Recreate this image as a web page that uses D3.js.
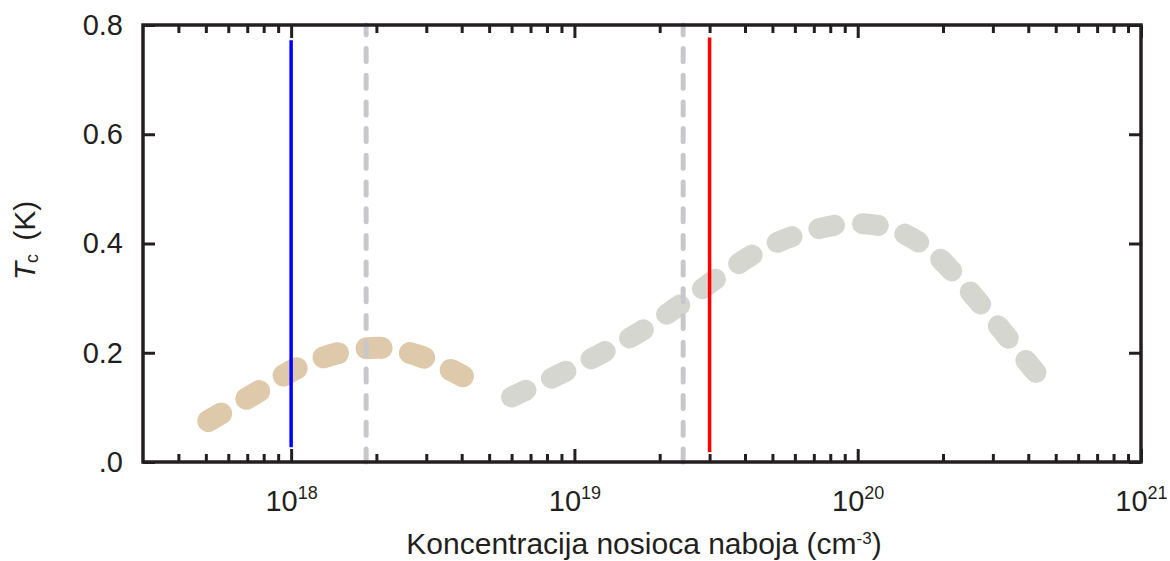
<!DOCTYPE html>
<html>
<head>
<meta charset="utf-8">
<script src="https://cdn.jsdelivr.net/npm/d3@7"></script>
<style>
  body { margin: 0; background: #fff; }
  text { font-family: "Liberation Sans", Arial, sans-serif; }
</style>
</head>
<body>
<div id="chart"></div>
<script>
// Tc vs carrier concentration
const tanN  = [5.1e17, 7.5e17, 1.05e18, 1.46e18, 2.06e18, 2.84e18, 4.04e18];
const tanTc = [0.075, 0.126, 0.172, 0.199, 0.209, 0.194, 0.157];

const grayN  = [6.0e18, 8.9e18, 1.26e19, 1.75e19, 2.44e19, 3.43e19, 4.8e19, 6.6e19, 9.2e19, 1.3e20, 1.8e20, 2.46e20, 3.24e20, 4.24e20, 4.6e20];
const grayTc = [0.119, 0.161, 0.2, 0.242, 0.293, 0.348, 0.394, 0.421, 0.436, 0.428, 0.388, 0.315, 0.24, 0.165, 0.146];

// solid markers (blue, red) and dashed grey markers
const solidN      = [1e18, 3e19];
const solidTop    = [0.772, 0.777];
const solidBottom = [0.027, 0.018];
const dashedN     = [1.84e18, 2.42e19];

// ticks
const xDecades    = [1e18, 1e19, 1e20, 1e21];
const yTicks      = [0, 0.2, 0.4, 0.6, 0.8];
const yTickLabels = [".0", "0.2", "0.4", "0.6", "0.8"];

const margin = { top: 25, right: 29, bottom: 99, left: 143 };
const width = 1170 - margin.left - margin.right;
const height = 561 - margin.top - margin.bottom;
const ink = "#231f20";

const svg = d3.select("#chart")
  .append("svg")
  .attr("width", 1170)
  .attr("height", 561);

const g = svg.append("g")
  .attr("transform", `translate(${margin.left},${margin.top})`);

const x = d3.scaleLog().domain([3e17, 1e21]).range([0, width]);
const y = d3.scaleLinear().domain([0, 0.8]).range([height, 0]);

// minor ticks 2..9 of each decade inside the domain
const xMinor = [];
[1e17, 1e18, 1e19, 1e20].forEach(d => {
  for (let k = 2; k <= 9; k++) {
    const v = d * k;
    if (v > 3.05e17 && v < 1e21) xMinor.push(v);
  }
});

// curves
const line = d3.line()
  .x(d => x(d[0]))
  .y(d => y(d[1]))
  .curve(d3.curveCatmullRom.alpha(0.5));

g.append("path")
  .datum(d3.zip(tanN, tanTc))
  .attr("d", line)
  .attr("fill", "none")
  .attr("stroke", "#dec9aa")
  .attr("stroke-width", 22)
  .attr("stroke-linecap", "round")
  .attr("stroke-dasharray", "15 29");

g.append("path")
  .datum(d3.zip(grayN, grayTc))
  .attr("d", line)
  .attr("fill", "none")
  .attr("stroke", "#d6d6d0")
  .attr("stroke-width", 21)
  .attr("stroke-linecap", "round")
  .attr("stroke-dasharray", "16 28");

// dashed grey verticals, drawn from the bottom up
g.selectAll(".dashed")
  .data(dashedN)
  .enter()
  .append("line")
  .attr("class", "dashed")
  .attr("x1", d => x(d))
  .attr("x2", d => x(d))
  .attr("y1", y(0))
  .attr("y2", y(0.8))
  .attr("stroke", "#c8c8cc")
  .attr("stroke-width", 5)
  .attr("stroke-linecap", "round")
  .attr("stroke-dasharray", "13 13.7");

const solidColor = d3.scaleOrdinal().domain(solidN).range(["#0000ff", "#ff0000"]);

g.selectAll(".solid")
  .data(d3.zip(solidN, solidBottom, solidTop))
  .enter()
  .append("line")
  .attr("class", "solid")
  .attr("x1", d => x(d[0]))
  .attr("x2", d => x(d[0]))
  .attr("y1", d => y(d[1]))
  .attr("y2", d => y(d[2]))
  .attr("stroke", d => solidColor(d[0]))
  .attr("stroke-width", 3.5);

// axes
function styleAxis(sel) {
  sel.attr("color", ink)
    .attr("font-family", "'Liberation Sans', Arial, sans-serif");
  sel.select(".domain").remove();
  sel.selectAll(".tick line").attr("stroke-width", 3);
}

// bottom
g.append("g")
  .attr("transform", `translate(0,${height})`)
  .call(d3.axisBottom(x).tickValues(xMinor).tickSize(-8).tickFormat(() => ""))
  .call(styleAxis);

const xMajor = g.append("g")
  .attr("transform", `translate(0,${height})`)
  .call(d3.axisBottom(x).tickValues(xDecades).tickSize(-13).tickPadding(28).tickFormat(() => ""))
  .call(styleAxis)
  .attr("font-size", 29);

xMajor.selectAll(".tick text").each(function(d) {
  const t = d3.select(this);
  t.append("tspan").text("10");
  t.append("tspan")
    .attr("dy", -12)
    .attr("font-size", 18)
    .text(Math.round(Math.log10(d)));
});

// top
g.append("g")
  .call(d3.axisTop(x).tickValues(xMinor).tickSize(-8).tickFormat(() => ""))
  .call(styleAxis);
g.append("g")
  .call(d3.axisTop(x).tickValues(xDecades).tickSize(-13).tickFormat(() => ""))
  .call(styleAxis);

// left
g.append("g")
  .call(d3.axisLeft(y).tickValues(yTicks).tickSize(-12).tickPadding(20)
    .tickFormat((d, i) => yTickLabels[i]))
  .call(styleAxis)
  .attr("font-size", 29);

// right
g.append("g")
  .attr("transform", `translate(${width},0)`)
  .call(d3.axisRight(y).tickValues(yTicks).tickSize(-12).tickFormat(() => ""))
  .call(styleAxis);

// frame
g.append("rect")
  .attr("width", width)
  .attr("height", height)
  .attr("fill", "none")
  .attr("stroke", ink)
  .attr("stroke-width", 3.5);

// axis titles
const xTitle = svg.append("text")
  .attr("x", margin.left + width / 2 + 2)
  .attr("y", 554)
  .attr("text-anchor", "middle")
  .attr("font-size", 30)
  .attr("fill", ink);
xTitle.append("tspan").text("Koncentracija nosioca naboja (cm");
xTitle.append("tspan").attr("dy", -10).attr("font-size", 17).text("-3");
xTitle.append("tspan").attr("dy", 10).text(")");

const yTitle = svg.append("text")
  .attr("transform", `translate(35,${margin.top + height / 2 - 3}) rotate(-90)`)
  .attr("text-anchor", "middle")
  .attr("font-size", 30)
  .attr("fill", ink);
yTitle.append("tspan").attr("font-style", "italic").text("T");
yTitle.append("tspan").attr("dy", 3).attr("dx", -1).attr("font-size", 18).text("c");
yTitle.append("tspan").attr("dy", -3).attr("dx", 5).text(" (K)");
</script>
</body>
</html>
